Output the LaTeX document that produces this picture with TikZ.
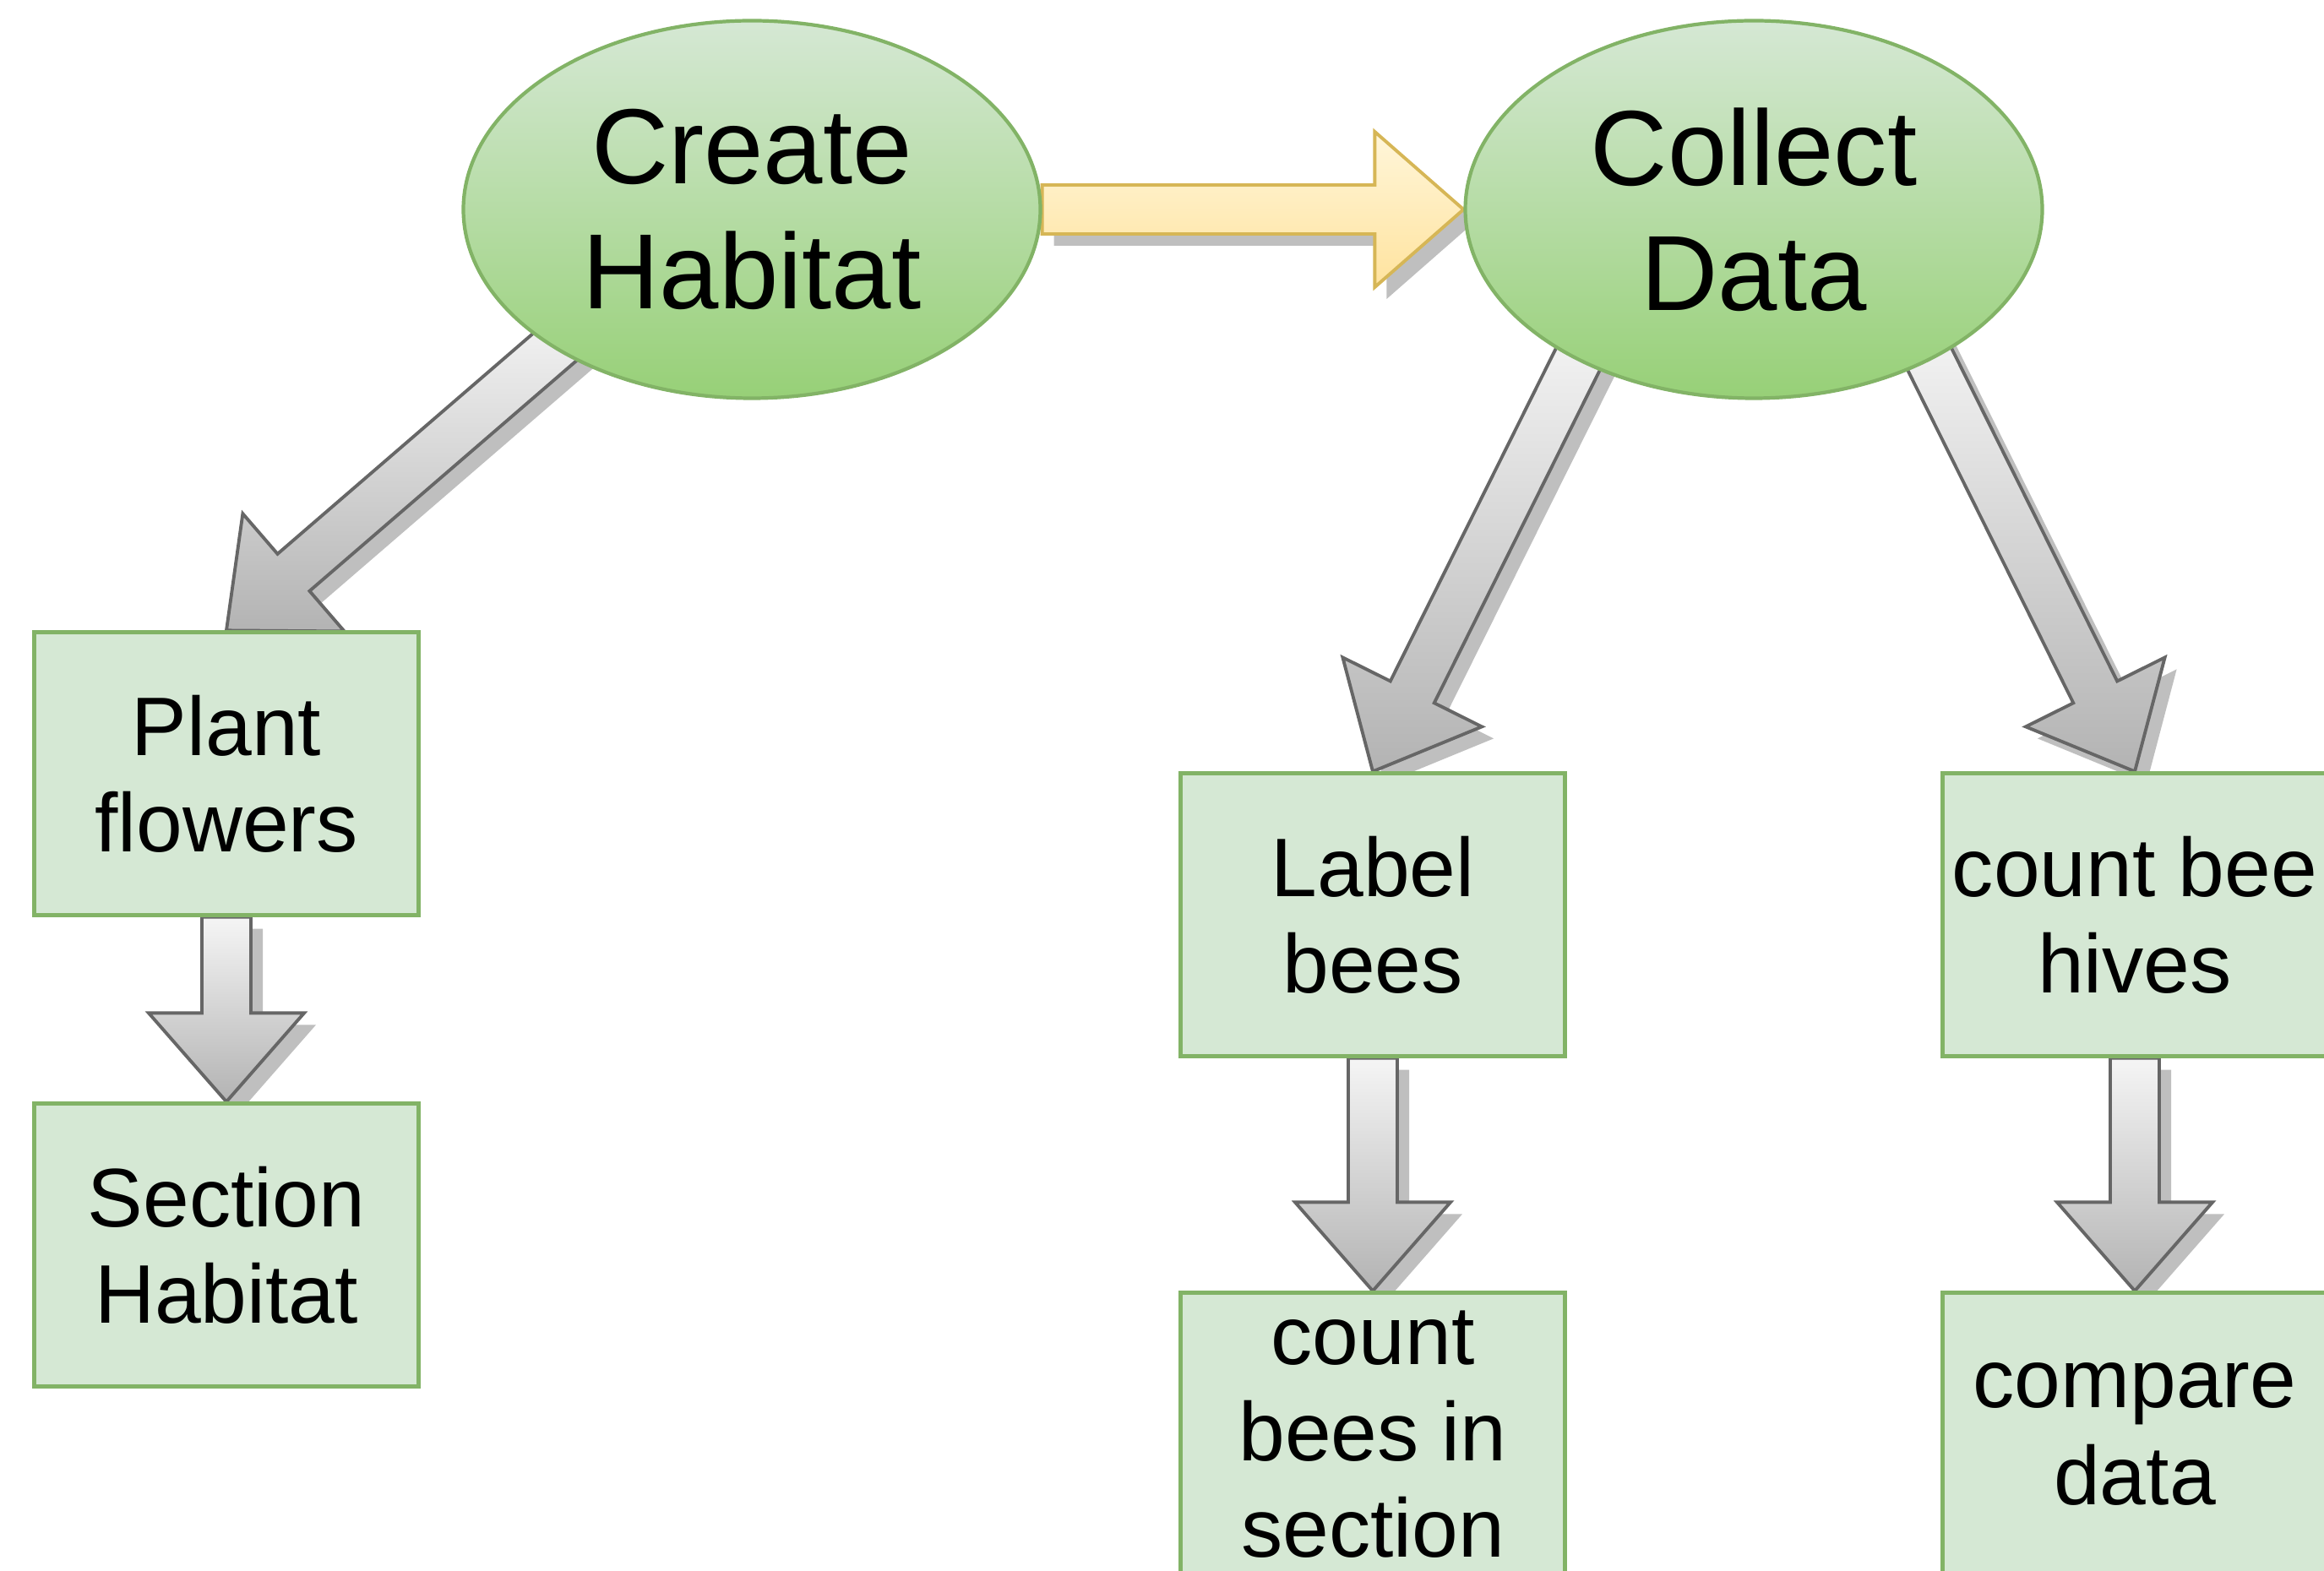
\documentclass[tikz,border=0pt]{standalone}
\usepackage{fontspec}
\setmainfont{Liberation Sans}
\usetikzlibrary{shapes.geometric,shadows,calc}
\definecolor{leaftop}{HTML}{D5E8D4}
\definecolor{leafbot}{HTML}{97D077}
\definecolor{leafline}{HTML}{82B366}
\definecolor{stonetop}{HTML}{F5F5F5}
\definecolor{stonebot}{HTML}{B3B3B3}
\definecolor{stoneline}{HTML}{666666}
\definecolor{suntop}{HTML}{FFF6DA}
\definecolor{sunbot}{HTML}{FFE39E}
\definecolor{sunline}{HTML}{D6B656}
\pgfdeclarelayer{back}
\pgfsetlayers{back,main}

\begin{document}
\begin{tikzpicture}[
  bubble/.style={ellipse, draw=leafline, line width=1.2pt, top color=leaftop, bottom color=leafbot, minimum width=6.83cm, minimum height=4.47cm, inner sep=0pt, align=center, font=\fontsize{36}{42}\selectfont},
  card/.style={draw=leafline, fill=leaftop, line width=1.2pt, minimum width=4.55cm, minimum height=3.35cm, inner sep=0pt, align=center, font=\fontsize{28}{32.5}\selectfont},
  fat/.style={line width=1.1pt, line join=miter, drop shadow={shadow xshift=0.14cm, shadow yshift=-0.14cm, opacity=0.25, fill=black}},
  stone/.style={fat, draw=stoneline, top color=stonetop, bottom color=stonebot},
  sun/.style={fat, draw=sunline, top color=suntop, bottom color=sunbot}]
  \useasboundingbox (0,0) rectangle (27.51,-18.60);
  \node[bubble] (ch) at (8.90,-2.48) {Create\\Habitat};
  \node[bubble] (cd) at (20.76,-2.48) {Collect\\Data};
  \node[card] (pf) at (2.68,-9.16) {Plant\\flowers};
  \node[card] (sh) at (2.68,-14.74) {Section\\Habitat};
  \node[card] (lb) at (16.25,-10.83) {Label\\bees};
  \node[card] (cs) at (16.25,-16.98) {count\\bees in\\section};
  \node[card] (hv) at (25.27,-10.83) {count bee\\hives};
  \node[card] (cp) at (25.27,-16.98) {compare\\data};
  \coordinate (ch-out) at ($(ch.214)!0.15!(ch.center)$);
  \coordinate (cdl-out) at ($(cd.217)!0.15!(cd.center)$);
  \coordinate (cdr-out) at ($(cd.323)!0.15!(cd.center)$);
  \begin{pgfonlayer}{back}
  \foreach \src/\dst/\kind in {ch.east/cd.west/sun, ch-out/pf.north/stone, cdl-out/lb.north/stone, cdr-out/hv.north/stone, pf.south/sh.north/stone, lb.south/cs.north/stone, hv.south/cp.north/stone}{
    \coordinate (hb) at ($(\dst)!1.05cm!(\src)$);
    \filldraw[\kind] ($(\src)!0.29cm!90:(\dst)$) -- ($(hb)!0.29cm!-90:(\src)$) -- ($(hb)!0.92cm!-90:(\src)$) -- (\dst)
      -- ($(hb)!0.92cm!90:(\src)$) -- ($(hb)!0.29cm!90:(\src)$) -- ($(\src)!0.29cm!-90:(\dst)$) -- cycle;
  }
  \end{pgfonlayer}
\end{tikzpicture}
\end{document}
